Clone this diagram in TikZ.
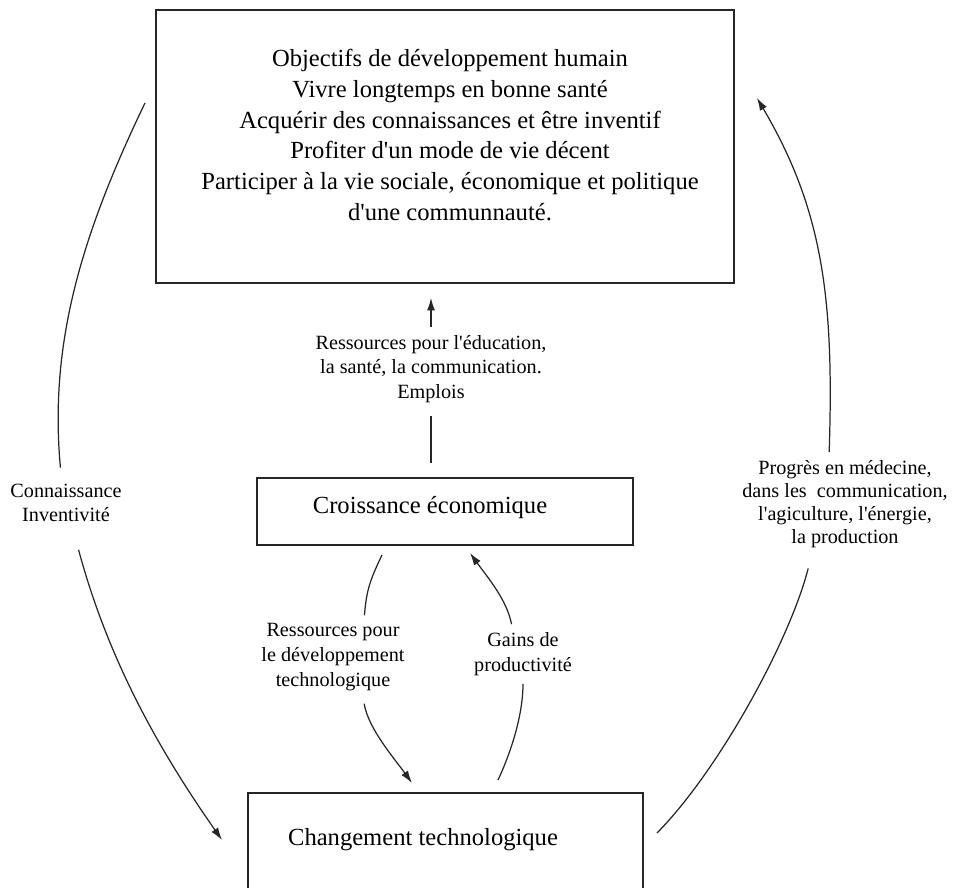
\documentclass[tikz,border=0pt]{standalone}
\usepackage{fontspec}
\setmainfont{Liberation Serif}[Ligatures=TeXOff]
\usetikzlibrary{arrows.meta}
\tikzset{
    frame/.style={
        draw=black!85,line width=#1,
        rectangle,anchor=north west,
        outer sep=0pt,inner sep=0pt,
        },
    frame/.default=.9pt,
    boxtext/.style={
        align=center,inner sep=0pt,
        font=\fontsize{14}{17.6}\selectfont,
        },
    lbl/.style={
        align=center,
        inner xsep=.1cm,inner ysep=.16cm,
        font=\fontsize{11.5}{14}\selectfont,
        },
    conn/.style={draw=black!85,line width=.7pt},
    arr/.style={conn,-{Latex[length=.25cm,width=.16cm]}},
    }
\begin{document}
\begin{tikzpicture}[x=.02cm,y=-.02cm]
    \useasboundingbox (0,0) rectangle (953,888);
    \node[frame=1pt,minimum width=11.56cm,minimum height=5.46cm] (goals) at (156,10) {};
    \node[frame=.7pt,minimum width=7.52cm,minimum height=1.34cm] (cro) at (257,478) {};
    \node[frame,minimum width=7.9cm,minimum height=2.4cm] (chg) at (248,793) {};
    \node[boxtext] (goalstxt) at (450,135) {Objectifs de développement humain\\Vivre longtemps en bonne santé\\Acquérir des connaissances et être inventif\\Profiter d'un mode de vie décent\\Participer à la vie sociale, économique et politique\\d'une communnauté.};
    \node[boxtext] (crotxt) at (430,508) {Croissance économique};
    \node[boxtext] (chgtxt) at (423,840) {Changement technologique};
    \node[lbl] (res) at (431,369) {Ressources pour l'éducation,\\la santé, la communication.\\Emplois};
    \node[lbl] (knw) at (66,503) {Connaissance\\Inventivité};
    \node[lbl,font=\fontsize{11.5}{13}\selectfont] (prg) at (845,504) {Progrès en médecine,\\dans les\ \ communication,\\l'agiculture, l'énergie,\\la production};
    \node[lbl] (rdt) at (333,657) {Ressources pour\\le développement\\technologique};
    \node[lbl] (gns) at (523,654) {Gains de\\productivité};
    \coordinate (lA) at (145,103);
    \coordinate (lB) at (222,840);
    \coordinate (rA) at (657,833);
    \coordinate (rB) at (757,98);
    \coordinate (iA) at (382,555);
    \coordinate (iB) at (412,783);
    \coordinate (jA) at (498,780);
    \coordinate (jB) at (470,553);
    \draw[arr,shorten >=.3cm] (res.north) -- (res.north |- goals.south);
    \draw[conn,shorten <=.1cm,shorten >=.3cm] (res.south) -- (res.south |- cro.north);
    \draw[conn,shorten >=.16cm] (lA) .. controls +(-65,135) and +(-12,-130) .. (knw.100);
    \draw[arr,shorten <=.4cm] (knw.285) .. controls +(35,130) and +(-63,-90) .. (lB);
    \draw[conn,shorten >=.26cm] (rA) .. controls +(63,-64) and +(-21,83) .. (prg.237);
    \draw[arr] (prg.107) .. controls +(5,-153) and +(66,112) .. (rB);
    \draw[conn] (iA) .. controls +(-12,25) and +(2,-25) .. (rdt.53);
    \draw[arr,shorten <=.1cm] (rdt.306) .. controls +(5,30) and +(-18,-25) .. (iB);
    \draw[conn] (jA) .. controls +(14,-30) and +(0,30) .. (gns.south);
    \draw[arr] (gns.111) .. controls +(-5,-25) and +(18,25) .. (jB);
\end{tikzpicture}
\end{document}
